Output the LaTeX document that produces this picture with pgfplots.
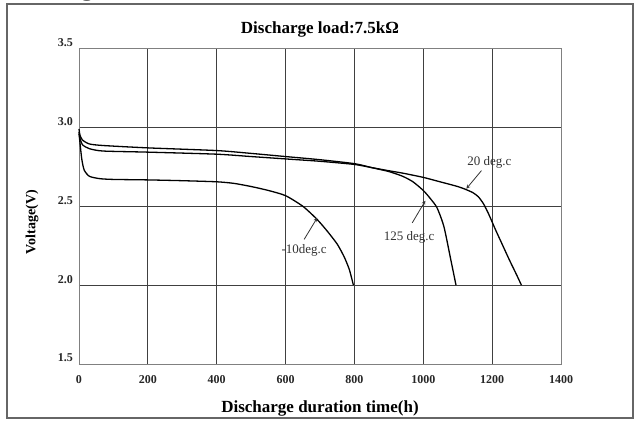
\documentclass[border=0pt]{standalone}
\usepackage{pgfplots}
\pgfplotsset{compat=1.18}
\usepackage{fontspec}
\setmainfont{Liberation Serif}
\begin{document}
\begin{tikzpicture}[x=1pt,y=1pt]
\useasboundingbox (-79,-56) rectangle (560,364);
\fill[white] (-79,-56) rectangle (560,364);
\begin{scope}
\clip (-79,-56) rectangle (560,364);
\node[anchor=base west, font=\bfseries\fontsize{22}{22}\selectfont, text=black!70, inner sep=0pt] at (-71,367) {Discharge characteristics};
\end{scope}
\draw[black!60, line width=2pt] (-72,360) rectangle (554,-54);
\begin{axis}[
  at={(0,0)}, anchor=south west, scale only axis,
  width=482pt, height=315.5pt,
  xmin=0, xmax=1400, ymin=1.5, ymax=3.5,
  xtick={0,200,...,1400}, ytick={1.5,2.0,2.5,3.0,3.5},
  scaled ticks=false,
  /pgf/number format/assume math mode=true,
  x tick label style={/pgf/number format/.cd, 1000 sep={}, /tikz/.cd, anchor=center, yshift=-16pt},
  y tick label style={/pgf/number format/.cd, fixed, fixed zerofill, precision=1, /tikz/.cd, anchor=east, inner sep=0pt, xshift=-6pt, yshift=6pt},
  ticklabel style={font=\bfseries\fontsize{12}{12}\selectfont, text=black!85},
  major tick length=0pt,
  grid=major,
  major grid style={black!75, line width=0.8pt},
  axis line style={black!50, line width=0.9pt},
  title={Discharge load:7.5kΩ},
  title style={at={(axis description cs:0.5,1.068)}, anchor=center, yshift=-8pt, font=\bfseries\fontsize{17}{17}\selectfont},
  xlabel={Discharge duration time(h)},
  xlabel style={at={(axis description cs:0.5,0)}, anchor=center, yshift=-44pt, font=\bfseries\fontsize{17}{17}\selectfont},
  ylabel={Voltage(V)},
  every axis y label/.style={at={(axis description cs:-0.0975,0.45)}, anchor=center, rotate=90, font=\bfseries\fontsize{14}{14}\selectfont},
  clip=false,
]
% -10 deg.c
\addplot[black, line width=1.3pt, smooth, tension=0.4] coordinates {
(0,2.96) (3,2.90) (8,2.80) (15,2.73) (30,2.69) (60,2.675) (100,2.67) (200,2.667) (300,2.662) (400,2.655) (450,2.645) (500,2.625) (550,2.60) (600,2.567) (650,2.50) (690,2.42) (720,2.345) (750,2.26) (770,2.18) (785,2.10) (797,2.0)};
% 125 deg.c
\addplot[black, line width=1.3pt, smooth, tension=0.4] coordinates {
(0,2.99) (3,2.95) (10,2.92) (30,2.895) (70,2.885) (200,2.87) (400,2.853) (500,2.835) (600,2.815) (700,2.795) (800,2.77) (850,2.745) (900,2.72) (940,2.69) (970,2.655) (1000,2.60) (1020,2.55) (1040,2.49) (1060,2.37) (1080,2.16) (1095,2.0)};
% 20 deg.c
\addplot[black, line width=1.3pt, smooth, tension=0.4] coordinates {
(0,2.97) (3,2.93) (10,2.89) (30,2.865) (70,2.85) (200,2.843) (400,2.83) (500,2.815) (600,2.80) (700,2.785) (800,2.765) (850,2.745) (900,2.725) (940,2.71) (1000,2.683) (1040,2.66) (1100,2.625) (1125,2.605) (1145,2.585) (1160,2.56) (1175,2.515) (1190,2.45) (1210,2.35) (1230,2.255) (1250,2.16) (1270,2.07) (1285,2.0)};
\node[font=\fontsize{13}{13}\selectfont, text=black!80] at (axis cs:1192,2.777) {20 deg.c};
\draw[-stealth, black!80, line width=0.8pt] (axis cs:1169,2.726) -- (axis cs:1125,2.611);
\node[font=\fontsize{13}{13}\selectfont, text=black!80] at (axis cs:959,2.30) {125 deg.c};
\draw[-stealth, black!80, line width=0.8pt] (axis cs:968,2.395) -- (axis cs:1006,2.535);
\node[font=\fontsize{13}{13}\selectfont, text=black!80] at (axis cs:654,2.217) {-10deg.c};
\draw[-stealth, black!80, line width=0.8pt] (axis cs:654,2.29) -- (axis cs:692,2.427);
\end{axis}
\end{tikzpicture}
\end{document}
